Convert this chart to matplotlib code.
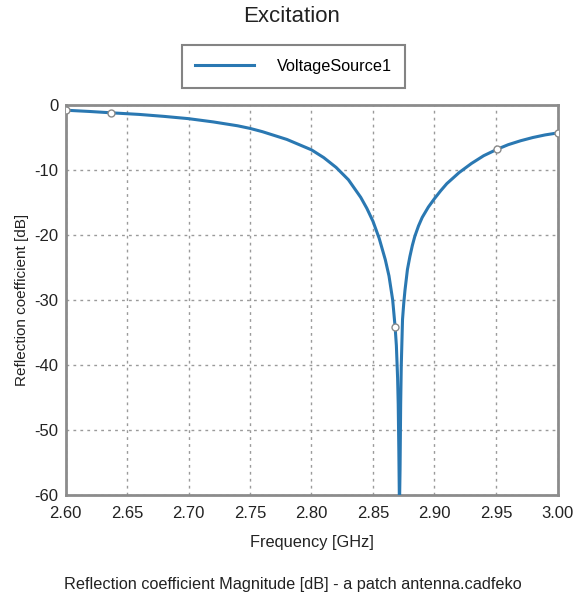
import matplotlib
matplotlib.use("Agg")
import matplotlib.pyplot as plt
from matplotlib.lines import Line2D

plt.rcParams['font.family'] = ['Liberation Sans', 'DejaVu Sans']

# Frequency [GHz] and reflection coefficient [dB]
freq = [2.600, 2.620, 2.637, 2.660, 2.680, 2.700, 2.720, 2.740, 2.750, 2.760,
        2.780, 2.800, 2.810, 2.820, 2.830, 2.840, 2.845, 2.850, 2.855, 2.860,
        2.863, 2.866, 2.868, 2.869, 2.870, 2.8705, 2.871, 2.8715, 2.872, 2.8725,
        2.873, 2.874, 2.875, 2.876, 2.878, 2.880, 2.882, 2.884, 2.887, 2.890,
        2.895, 2.900, 2.905, 2.910, 2.920, 2.930, 2.940, 2.951, 2.960, 2.970,
        2.980, 2.990, 3.000]
s11_db = [-0.8, -1.0, -1.2, -1.45, -1.75, -2.1, -2.6, -3.2, -3.6, -4.1,
          -5.3, -6.9, -8.1, -9.6, -11.5, -14.2, -15.9, -17.9, -20.5, -23.8,
          -26.3, -30.0, -34.2, -37.0, -42.0, -46.0, -53.0, -62.0, -56.0, -46.0,
          -40.0, -33.0, -30.5, -28.5, -25.3, -23.3, -21.6, -20.2, -18.6, -17.3,
          -15.7, -14.4, -13.2, -12.1, -10.4, -9.0, -7.8, -6.8, -6.1, -5.5,
          -5.0, -4.6, -4.3]
marker_freqs = [2.600, 2.637, 2.868, 2.951, 3.000]

series_name = "VoltageSource1"
xticks = [2.60, 2.65, 2.70, 2.75, 2.80, 2.85, 2.90, 2.95, 3.00]
yticks = [0, -10, -20, -30, -40, -50, -60]

W, H = 576, 601
fig = plt.figure(figsize=(W / 100, H / 100), dpi=100)
ax = fig.add_axes([65.5 / W, 1 - 495 / H, (557.5 - 65.5) / W, (495 - 105) / H])

line_color = '#2a78b2'
mark_idx = [freq.index(f) for f in marker_freqs]
ax.plot(freq, s11_db, color=line_color, lw=2.2, zorder=3,
        marker='o', markevery=mark_idx, markersize=5, markerfacecolor='white',
        markeredgecolor='#8a8a8a', markeredgewidth=1.0, clip_on=True)

ax.set_xlim(2.60, 3.00)
ax.set_ylim(-60, 0)
ax.set_xticks(xticks)
ax.set_xticklabels([f"{t:.2f}" for t in xticks], fontsize=12)
ax.set_yticks(yticks)
ax.set_yticklabels([str(t) for t in yticks], fontsize=12)
ax.tick_params(axis='x', length=0, pad=8, colors='#222222')
ax.tick_params(axis='y', length=0, pad=5, colors='#222222')

ax.grid(True, color='#9a9a9a', linestyle=(0, (2, 3)), linewidth=1.0)
for s in ax.spines.values():
    s.set_color('#8c8c8c')
    s.set_linewidth(2.0)

ax.set_xlabel("Frequency [GHz]", fontsize=11.8, color='#222222', labelpad=10)
ax.set_ylabel("Reflection coefficient [dB]", fontsize=11, color='#222222', labelpad=4)

fig.text(292 / W, 1 - 17 / H, "Excitation", ha='center', va='center',
         fontsize=16, color='#222222')

handle = Line2D([], [], color=line_color, lw=2.2)
leg = fig.legend([handle], [series_name], loc='center',
                 bbox_to_anchor=(293.5 / W, 1 - 66.5 / H),
                 fontsize=11.7, frameon=True, fancybox=False, handlelength=3.6,
                 handletextpad=1.4, borderpad=0.85, borderaxespad=0)
leg.get_frame().set_edgecolor('#666666')
leg.get_frame().set_linewidth(1.5)

fig.text(293 / W, 1 - 585 / H,
         "Reflection coefficient Magnitude [dB] - a patch antenna.cadfeko",
         ha='center', va='center', fontsize=11.7, color='#222222')

fig.savefig("out.png", dpi=100, facecolor='white')
